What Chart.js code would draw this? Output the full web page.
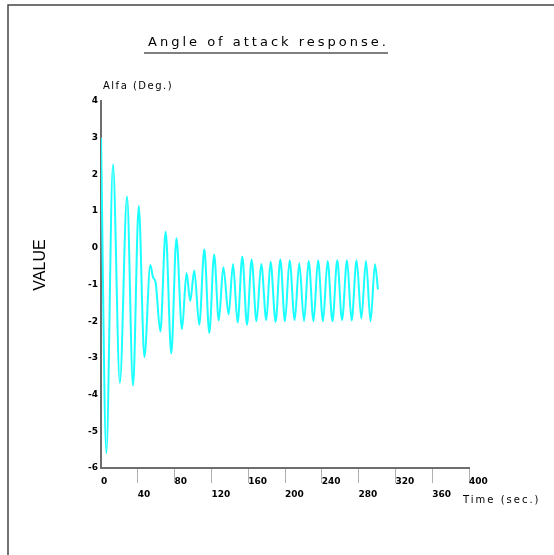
<!DOCTYPE html>
<html>
<head>
<meta charset="utf-8">
<script src="https://cdn.jsdelivr.net/npm/chart.js@4.4.1/dist/chart.umd.min.js"></script>
<style>
  html, body { margin: 0; padding: 0; background: #fff; }
  #wrap { width: 554px; height: 555px; position: relative; }
</style>
</head>
<body>
<div id="wrap"><canvas id="chartAlfa"></canvas></div>
<script>
// Tempo (s) e ângulo de ataque (graus)
const tempo = [
  0, 5.8, 13, 20.5, 28.3, 34.8, 41, 47.2, 53.6, 56.5, 59.4, 64.5,
  70.3, 76.4, 82, 88, 93, 97, 101.4, 106.8, 112.3, 117.7, 123, 128,
  133, 138.7, 143.5, 148.5, 153.6, 158.7, 163.7, 169, 174.2, 179.7,
  184.3, 189.8, 194.9, 200, 205, 210.5, 215.5, 220.7, 225.7, 231,
  235.9, 241.3, 246.3, 251.6, 256.8, 262, 267.4, 272.4, 277.8, 283,
  288, 293, 297.8, 301,
];
const alfa = [
  3.0, -5.6, 2.27, -3.68, 1.4, -3.76, 1.14, -2.98, -0.47, -0.8, -0.95, -2.28,
  0.44, -2.88, 0.26, -2.22, -0.69, -1.45, -0.62, -2.1, -0.04, -2.32, -0.18, -1.98,
  -0.53, -1.82, -0.44, -2.04, -0.24, -2.1, -0.32, -2.0, -0.44, -1.97,
  -0.38, -2.02, -0.32, -2.0, -0.34, -1.97, -0.42, -2.0, -0.36, -2.0,
  -0.34, -2.0, -0.36, -2.0, -0.34, -1.97, -0.34, -1.98, -0.34, -1.93,
  -0.36, -2.0, -0.45, -1.13,
];
const ticksX = [0, 40, 80, 120, 160, 200, 240, 280, 320, 360, 400];
const ticksY = [-6, -5, -4, -3, -2, -1, 0, 1, 2, 3, 4];

// Textos e moldura desenhados por cima
const textos = {
  id: "textos",
  afterDraw(chart) {
    const ctx = chart.ctx;
    ctx.save();
    // moldura
    ctx.strokeStyle = "#444";
    ctx.lineWidth = 1.5;
    ctx.beginPath();
    ctx.moveTo(8, 555);
    ctx.lineTo(8, 5);
    ctx.lineTo(554, 5);
    ctx.stroke();

    ctx.fillStyle = "#000";
    ctx.textBaseline = "alphabetic";
    ctx.textAlign = "left";

    // título sublinhado
    ctx.font = "13px 'DejaVu Sans'";
    ctx.letterSpacing = "3px";
    ctx.fillText("Angle of attack response.", 148, 46);
    ctx.strokeStyle = "#555";
    ctx.beginPath();
    ctx.moveTo(144, 53);
    ctx.lineTo(388, 53);
    ctx.stroke();

    ctx.font = "10px 'DejaVu Sans'";
    ctx.letterSpacing = "1.5px";
    ctx.fillText("Alfa (Deg.)", 103, 89);

    ctx.letterSpacing = "2px";
    ctx.fillText("Time (sec.)", 463, 503);

    ctx.letterSpacing = "0px";
    ctx.font = "16px 'Liberation Sans'";
    ctx.translate(41, 265);
    ctx.rotate(-Math.PI / 2);
    ctx.textAlign = "center";
    ctx.textBaseline = "middle";
    ctx.fillText("VALUE", 0, 0);
    ctx.restore();
  },
};

const alfaChart = document.getElementById("chartAlfa");

new Chart(alfaChart, {
  type: "line",
  data: {
    datasets: [
      {
        label: "Alfa",
        data: tempo.map((t, i) => ({ x: t, y: alfa[i] })),
        borderColor: "#1affff",
        borderWidth: 2,
        pointRadius: 0,
        cubicInterpolationMode: "monotone",
        fill: false,
      },
    ],
  },
  options: {
    responsive: true,
    maintainAspectRatio: false,
    animation: false,
    layout: {
      padding: { left: 71, right: 85, top: 101, bottom: 0 },
    },
    plugins: {
      legend: { display: false },
      tooltip: { enabled: false },
    },
    scales: {
      x: {
        type: "linear",
        min: 0,
        max: 400,
        afterBuildTicks: (s) => {
          s.ticks = ticksX.map((v) => ({ value: v }));
        },
        afterFit: (s) => {
          s.height = 87;
        },
        grid: {
          drawOnChartArea: false,
          drawTicks: true,
          tickLength: 15,
          lineWidth: 1,
          color: (c) => (c.tick && c.tick.value === 0 ? "rgba(0,0,0,0)" : "#b0b0b0"),
        },
        border: { display: true, color: "#6e6e6e", width: 2 },
        ticks: {
          align: "start",
          maxRotation: 0,
          autoSkip: false,
          padding: -8,
          color: "#000",
          font: { family: "DejaVu Sans", size: 9, weight: "bold", lineHeight: "13px" },
          callback: (v, i) => (i % 2 === 0 ? [String(v), ""] : ["", String(v)]),
        },
      },
      y: {
        min: -6,
        max: 4,
        afterBuildTicks: (s) => {
          s.ticks = ticksY.map((v) => ({ value: v }));
        },
        afterFit: (s) => {
          s.width = 30;
        },
        grid: { display: false, drawTicks: false },
        border: { display: true, color: "#6e6e6e", width: 2 },
        ticks: {
          padding: 3,
          color: "#000",
          font: { family: "DejaVu Sans", size: 9, weight: "bold" },
        },
      },
    },
  },
  plugins: [textos],
});
</script>
</body>
</html>
